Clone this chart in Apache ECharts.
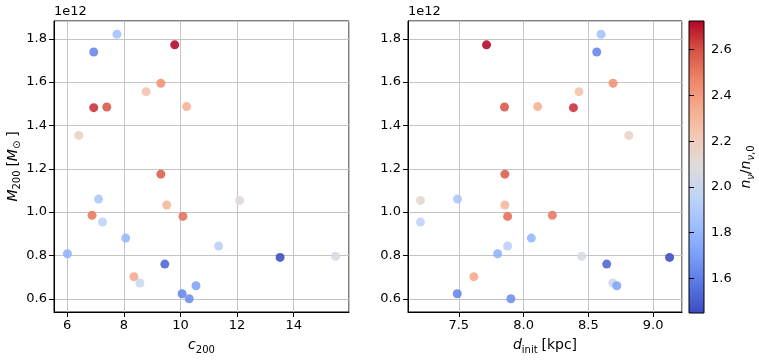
<!DOCTYPE html>
<html>
<head>
<meta charset="utf-8">
<script src="https://cdn.jsdelivr.net/npm/echarts@6/dist/echarts.min.js"></script>
<style>
  html, body { margin: 0; padding: 0; background: #fff; }
  #main { width: 759px; height: 360px; }
</style>
</head>
<body>
<div id="main"></div>
<script>
// halo concentration, mass (units of 1e12 Msun), initial distance, density ratio
var c200 = [7.76, 6.94, 9.80, 9.31, 8.79, 6.94, 7.40, 10.22, 6.41, 9.31, 7.11, 6.88, 7.25, 9.52,
            10.09, 12.09, 8.07, 11.35, 6.01, 9.45, 13.52, 15.48, 8.36, 8.57, 10.55, 10.06, 10.31];
var M200 = [1.821, 1.739, 1.772, 1.595, 1.556, 1.482, 1.485, 1.487, 1.354, 1.175, 1.060, 0.985, 0.954, 1.033,
            0.980, 1.054, 0.880, 0.843, 0.808, 0.760, 0.791, 0.796, 0.702, 0.673, 0.660, 0.623, 0.600];
var dInit = [8.598, 8.565, 7.714, 8.691, 8.428, 8.385, 7.853, 8.109, 8.812, 7.856, 7.490, 8.222, 7.204, 7.856,
             7.877, 7.204, 8.060, 7.877, 7.800, 8.642, 9.127, 8.449, 7.616, 8.689, 8.720, 7.488, 7.902];
var ratio = [1.85, 1.62, 2.72, 2.42, 2.25, 2.65, 2.58, 2.32, 2.17, 2.57, 1.88, 2.50, 1.95, 2.30,
             2.52, 2.12, 1.80, 1.93, 1.78, 1.52, 1.45, 2.05, 2.35, 2.00, 1.72, 1.62, 1.65];

// coolwarm
var coolwarm = ['#3b4cc0', '#5977e3', '#7b9ff9', '#9ebeff', '#c0d4f5', '#dddcdc',
                '#f2cbb7', '#f7ac8e', '#ee8468', '#d65244', '#b40426'];

var FONT = 'DejaVu Sans';

function pad(arr) {
    var lo = Math.min.apply(null, arr), hi = Math.max.apply(null, arr);
    var m = (hi - lo) * 0.05;
    return [lo - m, hi + m];
}
var cRange = pad(c200), dRange = pad(dInit), mRange = pad(M200);
var rMin = Math.min.apply(null, ratio), rMax = Math.max.apply(null, ratio);

var leftData = c200.map(function (c, i) { return [c, M200[i], ratio[i]]; });
var rightData = dInit.map(function (d, i) { return [d, M200[i], ratio[i]]; });

var rich = {
    i: { fontFamily: FONT, fontSize: 14, fontStyle: 'italic', color: '#000' },
    n: { fontFamily: FONT, fontSize: 14, color: '#000' },
    s: { fontFamily: FONT, fontSize: 10, color: '#000', padding: [9, 0, 0, 0] },
    si: { fontFamily: FONT, fontSize: 10, fontStyle: 'italic', color: '#000', padding: [9, 0, 0, 0] }
};

function axisBase() {
    return {
        type: 'value',
        axisLine: { show: true, onZero: false, lineStyle: { color: '#000', width: 1 } },
        axisTick: { show: true, inside: false, length: 5, lineStyle: { color: '#000' } },
        axisLabel: { color: '#000', fontFamily: FONT, fontSize: 13, margin: 7,
                     showMinLabel: false, showMaxLabel: false },
        splitLine: { show: true, lineStyle: { color: '#c4c4c4', width: 1 } }
    };
}

var xLeft = axisBase();
Object.assign(xLeft, { gridIndex: 0, min: cRange[0], max: cRange[1], splitNumber: 5,
    name: '{i|c}{s|200}', nameLocation: 'middle', nameGap: 24,
    nameTextStyle: { rich: rich } });
var xRight = axisBase();
Object.assign(xRight, { gridIndex: 1, min: dRange[0], max: dRange[1], splitNumber: 4,
    name: '{i|d}{s|init} {n|[kpc]}', nameLocation: 'middle', nameGap: 24,
    nameTextStyle: { rich: rich } });
xRight.axisLabel.formatter = function (v) { return v.toFixed(1); };

var yLeft = axisBase();
Object.assign(yLeft, { gridIndex: 0, min: mRange[0], max: mRange[1], splitNumber: 7,
    name: '{i|M}{s|200} {n|[}{i|M}{s|⊙} {n|]}', nameLocation: 'middle', nameGap: 28, nameRotate: 90,
    nameTextStyle: { rich: rich } });
yLeft.axisLabel.formatter = function (v) { return v.toFixed(1); };
var yRight = axisBase();
Object.assign(yRight, { gridIndex: 1, min: mRange[0], max: mRange[1], splitNumber: 7 });
yRight.axisLabel.formatter = function (v) { return v.toFixed(1); };

// colorbar axis
var xBar = { type: 'value', gridIndex: 2, min: 0, max: 1, show: false };
var yBar = {
    type: 'value', gridIndex: 2, position: 'right', min: rMin - 0.001, max: rMax + 0.005, splitNumber: 6,
    axisLine: { show: false },
    axisTick: { show: true, inside: false, length: 5, lineStyle: { color: '#000' } },
    axisLabel: { color: '#000', fontFamily: FONT, fontSize: 13, margin: 7,
                 showMinLabel: false, showMaxLabel: false,
                 formatter: function (v) { return v.toFixed(1); } },
    splitLine: { show: false },
    name: '{i|n}{si|ν}{n|/}{i|n}{si|ν}{s|,0}', nameLocation: 'middle', nameGap: 33, nameRotate: 90,
    nameTextStyle: { rich: rich }
};

var barStops = coolwarm.map(function (c, i) {
    return { offset: 1 - i / (coolwarm.length - 1), color: c };
});

var myChart = echarts.init(document.getElementById('main'), null, { renderer: 'canvas' });
myChart.setOption({
    animation: false,
    backgroundColor: '#fff',
    textStyle: { fontFamily: FONT },
    grid: [
        { left: 54, top: 21, width: 295, height: 292, show: true, borderColor: '#000', borderWidth: 1 },
        { left: 408, top: 21, width: 274, height: 292, show: true, borderColor: '#000', borderWidth: 1 },
        { left: 689, top: 21, width: 15, height: 292, show: true, borderColor: '#000', borderWidth: 1,
          backgroundColor: new echarts.graphic.LinearGradient(0, 0, 0, 1, barStops) }
    ],
    xAxis: [xLeft, xRight, xBar],
    yAxis: [yLeft, yRight, yBar],
    visualMap: {
        type: 'continuous', show: false, dimension: 2, seriesIndex: [0, 1],
        min: rMin, max: rMax,
        inRange: { color: coolwarm }
    },
    graphic: [
        { type: 'text', left: 54, top: 5, style: { text: '1e12', font: '13px DejaVu Sans', fill: '#000' } },
        { type: 'text', left: 408, top: 5, style: { text: '1e12', font: '13px DejaVu Sans', fill: '#000' } }
    ],
    series: [
        { type: 'scatter', xAxisIndex: 0, yAxisIndex: 0, data: leftData, symbolSize: 9,
          itemStyle: { opacity: 0.88 } },
        { type: 'scatter', xAxisIndex: 1, yAxisIndex: 1, data: rightData, symbolSize: 9,
          itemStyle: { opacity: 0.88 } }
    ]
});
</script>
</body>
</html>
